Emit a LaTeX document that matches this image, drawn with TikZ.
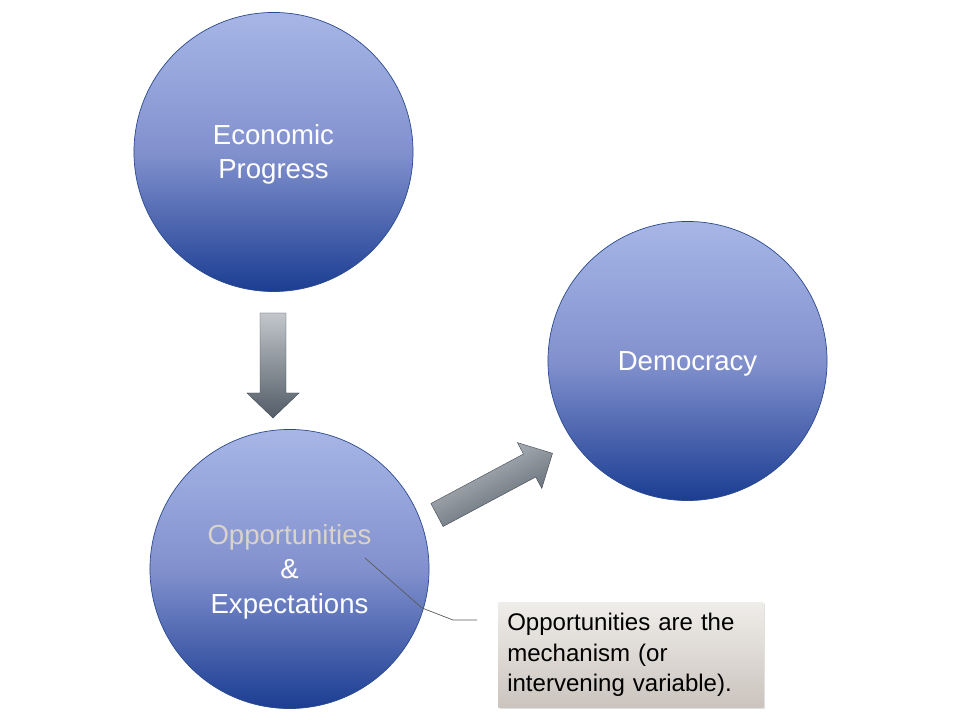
\documentclass[tikz,border=0pt]{standalone}
\usepackage{fontspec}
\setmainfont{Liberation Sans}
\usetikzlibrary{shadows}
\definecolor{ballTop}{HTML}{A7B6E6}
\definecolor{ballMid}{HTML}{8291CE}
\definecolor{ballBot}{HTML}{1B3D92}
\definecolor{ballRim}{HTML}{2B4A8F}
\definecolor{oppText}{HTML}{D9D3CC}
\definecolor{arrowTop}{HTML}{C3C7CC}
\definecolor{arrowBot}{HTML}{525C67}
\definecolor{noteTop}{HTML}{EFEDEA}
\definecolor{noteBot}{HTML}{CBC4BE}
\definecolor{leaderGrey}{HTML}{5A5A5A}
\newcommand\ballsize{6.975cm}
\tikzset{ball/.style={circle,draw=ballRim,line width=0.5pt,minimum size=\ballsize,top color=ballTop,bottom color=ballBot,middle color=ballMid,text=white,align=center,text depth=0pt,font=\fontsize{19.6}{24.2}\selectfont},
    blockarrow/.style={draw=arrowBot!80!black,line width=0.3pt,top color=arrowTop,bottom color=arrowBot},
    note/.style={rectangle,anchor=north west,minimum width=6.625cm,minimum height=2.625cm,inner xsep=0.225cm,text width=6.175cm,align=left,top color=noteTop,bottom color=noteBot,drop shadow={shadow xshift=0.04cm,shadow yshift=-0.05cm,opacity=0.25},font=\fontsize{17.1}{21.7}\selectfont}}

\begin{document}
\begin{tikzpicture}[x=0.025cm,y=-0.025cm]
                \useasboundingbox (0,0) rectangle (960,720);
                \node[ball] (econ) at (273.5,152) {Economic\\Progress};
                \node[ball] (demo) at (687.5,361) {Democracy};
                \node[ball] (opp) at (289.5,569) {\textcolor{oppText}{Opportunities}\\\&\\Expectations};

                \path[blockarrow] (260,313) -- (286,313) -- (286,393) -- (299,393) -- (273,418) -- (247,393) -- (260,393) -- cycle;
                \path[blockarrow,shading angle=28] (430.9,503.5) -- (523.5,454) -- (517.4,442.6) -- (552.5,453.3) -- (541.8,488.4) -- (535.7,477) -- (443.1,526.5) -- cycle;

                \node[note] (mech) at (498,602) {Opportunities are the\\mechanism (or\\intervening variable).};
                \coordinate (oppend) at (365,558);
                \coordinate (mechend) at (477,620);
                \draw[leaderGrey,line width=0.5pt] (oppend) -- (422,608) -- (453,620) -- (mechend);
            \end{tikzpicture}
\end{document}
